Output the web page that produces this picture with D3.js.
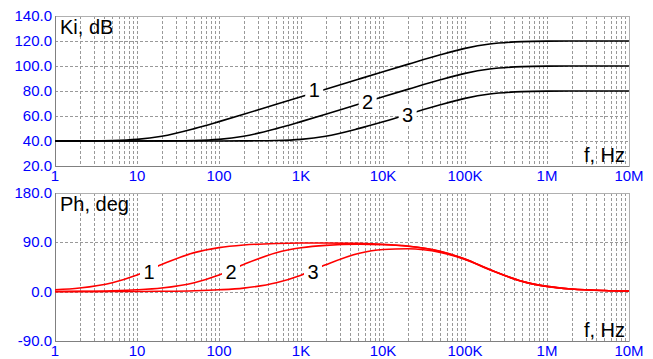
<!DOCTYPE html>
<html>
<head>
<meta charset="utf-8">
<script src="https://d3js.org/d3.v7.min.js"></script>
<style>
  body { margin: 0; background: #fff; }
  text { font-family: Arial, "Liberation Sans", sans-serif; }
</style>
</head>
<body>
<div id="chart"></div>
<script>
// frequency points, Hz
var freq = [1, 2, 5, 10, 20, 50, 100, 200, 500, 1e3, 2e3, 5e3, 1e4, 2e4, 5e4, 1e5, 2e5, 5e5, 1e6, 2e6, 5e6, 1e7];
// gain, dB
var ki1 = [40.0, 40.1, 40.4, 41.3, 43.8, 49.9, 55.5, 61.4, 69.4, 75.4, 81.4, 89.4, 95.4, 101.3, 109.0, 114.1, 117.6, 119.5, 119.9, 120.0, 120.0, 120.0];
var ki2 = [40.0, 40.0, 40.0, 40.0, 40.1, 40.4, 41.3, 43.8, 49.9, 55.5, 61.4, 69.4, 75.4, 81.3, 89.0, 94.1, 97.6, 99.5, 99.9, 100.0, 100.0, 100.0];
var ki3 = [40.0, 40.0, 40.0, 40.0, 40.0, 40.0, 40.0, 40.1, 40.4, 41.3, 43.8, 49.9, 55.4, 61.3, 69.0, 74.1, 77.6, 79.5, 79.9, 80.0, 80.0, 80.0];
// phase, deg
var ph1 = [3.4, 6.7, 16.4, 30.5, 49.6, 71.2, 80.3, 85.1, 87.9, 88.7, 88.8, 88.1, 86.5, 83.2, 73.6, 59.5, 40.4, 18.8, 9.6, 4.9, 2.0, 1.0];
var ph2 = [0.3, 0.7, 1.7, 3.4, 6.7, 16.4, 30.5, 49.6, 71.0, 80.0, 84.5, 86.4, 85.7, 82.8, 73.4, 59.4, 40.3, 18.8, 9.6, 4.9, 2.0, 1.0];
var ph3 = [0.0, 0.1, 0.2, 0.3, 0.7, 1.7, 3.4, 6.5, 16.2, 30.1, 49.0, 69.5, 77.0, 78.4, 71.7, 58.6, 39.9, 18.6, 9.5, 4.8, 2.0, 1.0];

var xTicks = [1, 10, 100, 1e3, 1e4, 1e5, 1e6, 1e7];
var xTickLabels = ["1", "10", "100", "1K", "10K", "100K", "1M", "10M"];
var kiTicks = [20, 40, 60, 80, 100, 120, 140];
var phTicks = [-90, 0, 90, 180];

// curve labels: [freq, value, text]
var kiLabels = [[1.45e3, 80.8, "1"], [6.5e3, 71.2, "2"], [2.0e4, 60.8, "3"]];
var phLabels = [[14, 36, "1"], [140, 36, "2"], [1.4e3, 36, "3"]];

var w = 653, h = 359;
var svg = d3.select("#chart").append("svg")
  .attr("width", w).attr("height", h);

var x = d3.scaleLog().domain([1, 1e7]).range([55, 629]);
var minor = [];
for (var d = 1; d < 1e7; d *= 10) {
  for (var k = 1; k < 10; k++) minor.push(d * k);
}
var fmt = function(v) { return d3.format(".1f")(v).replace("\u2212", "-"); };

function panel(top, bottom, domain, ticks, series, color, labels, title) {
  var y = d3.scaleLinear().domain(domain).range([bottom, top]);
  var g = svg.append("g");

  g.append("rect")
    .attr("x", 55).attr("y", top)
    .attr("width", 629 - 55).attr("height", bottom - top)
    .attr("fill", "#fff");

  g.selectAll(".vg").data(minor.slice(1)).enter().append("line")
    .attr("x1", function(d) { return Math.round(x(d)) + 0.5; })
    .attr("x2", function(d) { return Math.round(x(d)) + 0.5; })
    .attr("y1", top).attr("y2", bottom)
    .attr("stroke", "#999").attr("stroke-dasharray", "3,2");

  g.selectAll(".hg").data(ticks.slice(1, -1)).enter().append("line")
    .attr("x1", 55).attr("x2", 629)
    .attr("y1", function(d) { return Math.round(y(d)) + 0.5; })
    .attr("y2", function(d) { return Math.round(y(d)) + 0.5; })
    .attr("stroke", "#999").attr("stroke-dasharray", "3,2");

  g.append("rect")
    .attr("x", 55.5).attr("y", top + 0.5)
    .attr("width", 629 - 55).attr("height", bottom - top)
    .attr("fill", "none").attr("stroke", "#b0b0b0");
  g.append("line")
    .attr("x1", 55.5).attr("x2", 55.5).attr("y1", top).attr("y2", bottom + 1)
    .attr("stroke", "#808080");
  g.append("line")
    .attr("x1", 55).attr("x2", 629).attr("y1", bottom + 0.5).attr("y2", bottom + 0.5)
    .attr("stroke", "#808080");

  g.selectAll(".yl").data(ticks).enter().append("text")
    .attr("x", 52).attr("y", function(d) { return y(d) + 5; })
    .attr("text-anchor", "end")
    .attr("font-size", 15).attr("fill", "#0000ff")
    .text(fmt);

  g.selectAll(".xl").data(xTicks).enter().append("text")
    .attr("x", function(d) { return x(d); })
    .attr("y", bottom + 15)
    .attr("text-anchor", "middle")
    .attr("font-size", 15).attr("fill", "#0000ff")
    .text(function(d, i) { return xTickLabels[i]; });

  var line = d3.line()
    .x(function(d, i) { return x(freq[i]); })
    .y(function(d) { return y(d); })
    .curve(d3.curveMonotoneX);

  g.selectAll(".curve").data(series).enter().append("path")
    .attr("d", line)
    .attr("fill", "none")
    .attr("stroke", color)
    .attr("stroke-width", 1.6);

  var lab = g.selectAll(".lab").data(labels).enter().append("g")
    .attr("transform", function(d) { return "translate(" + x(d[0]) + "," + y(d[1]) + ")"; });
  lab.append("rect")
    .attr("x", -9).attr("y", -11).attr("width", 18).attr("height", 22)
    .attr("fill", "#fff");
  lab.append("text")
    .attr("text-anchor", "middle").attr("y", 7)
    .attr("font-size", 20).attr("fill", "#000")
    .text(function(d) { return d[2]; });

  g.append("text")
    .attr("x", 60).attr("y", top + 18)
    .attr("font-size", 20).attr("fill", "#000")
    .text(title);
  g.append("text")
    .attr("x", 625).attr("y", bottom - 4)
    .attr("text-anchor", "end")
    .attr("font-size", 20).attr("fill", "#000")
    .text("f, Hz");
}

panel(16, 166, [20, 140], kiTicks, [ki1, ki2, ki3], "#000", kiLabels, "Ki, dB");
panel(193, 341, [-90, 180], phTicks, [ph1, ph2, ph3], "#ff0000", phLabels, "Ph, deg");
</script>
</body>
</html>
